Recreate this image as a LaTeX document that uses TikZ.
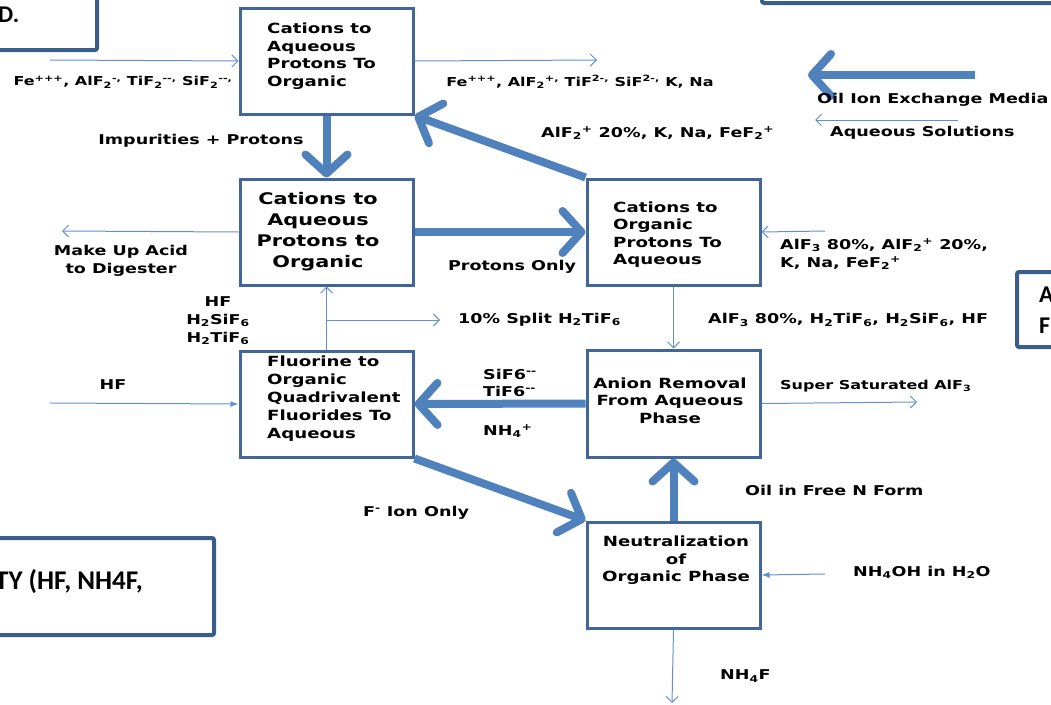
\documentclass[tikz,border=0pt]{standalone}
\usepackage{fontspec}
\usepackage{tikz}
\usetikzlibrary{arrows.meta}
\newfontfamily\flowfont[FakeStretch=1.3]{DejaVu Sans}
\newfontfamily\calfont{Carlito}
\definecolor{flowblue}{HTML}{4F81BD}
\definecolor{thinblue}{HTML}{6490C9}
\definecolor{boxblue}{HTML}{41679A}
\definecolor{edgeblue}{HTML}{3A5E8C}
\newcommand{\sbs}[1]{\textsubscript{#1}}
\newcommand{\sps}[1]{\textsuperscript{#1}}

\begin{document}
\begin{tikzpicture}[x=1pt,y=-1pt]
\tikzstyle{every node}+=[inner sep=0pt]
\tikzstyle{flowbox}=[draw=boxblue, line width=3pt, rectangle, minimum width=173pt, minimum height=106pt]
\tikzstyle{edgebox}=[draw=edgeblue, line width=4pt, rounded corners=2pt]
\tikzstyle{edgetxt}=[font=\calfont\bfseries\fontsize{24}{31}\selectfont, align=left]
\tikzstyle{smalltxt}=[font=\flowfont\bfseries\fontsize{14}{17.5}\selectfont, align=left]
\tikzstyle{bigtxt}=[font=\flowfont\bfseries\fontsize{16}{21}\selectfont, align=center]
\tikzstyle{lbl}=[font=\flowfont\bfseries\fontsize{13.5}{17.5}\selectfont]
\tikzstyle{lblsmall}=[font=\flowfont\bfseries\fontsize{12.3}{17.5}\selectfont]
\tikzstyle{bigflow}=[draw=flowblue, line width=8pt, -{Straight Barb[length=19pt,width=42pt,round]}]
\tikzstyle{thinflow}=[draw=thinblue, line width=1pt, -{Straight Barb[length=6pt,width=12pt]}]
\tikzstyle{thinfill}=[draw=thinblue, line width=1pt, -{Latex[length=8pt,width=6pt]}]
\useasboundingbox (0,0) rectangle (1051,704);
\clip (0,0) rectangle (1051,704);
\draw[edgebox] (-30,-30) rectangle (97,50);
\node[edgetxt, anchor=west] (titleend) at (-2,15) {D.};
\draw[edgebox] (762,-60) rectangle (1090,3);
\draw[edgebox] (1017,272) rectangle (1090,347);
\node[edgetxt, anchor=west] (sidenote) at (1039,310) {A\\F};
\draw[edgebox] (-40,538) rectangle (214,635);
\node[edgetxt, anchor=west, font=\calfont\bfseries\fontsize{27}{31}\selectfont] (capnote) at (-5,582) {TY (HF, NH4F,};
\node[flowbox] (cat1) at (326.5,61) {};
\node[flowbox] (cat2) at (326.5,232) {};
\node[flowbox] (org) at (673.5,232) {};
\node[flowbox] (fluor) at (326.5,404) {};
\node[flowbox, minimum height=107pt] (anion) at (673.5,403.5) {};
\node[flowbox] (neut) at (673.5,575) {};
\node[smalltxt, anchor=west] (cat1t) at (267,56) {Cations to\\Aqueous\\Protons To\\Organic};
\node[bigtxt] (cat2t) at (318,232) {Cations to\\Aqueous\\Protons to\\Organic};
\node[smalltxt, anchor=west] (orgt) at (613,234.5) {Cations to\\Organic\\Protons To\\Aqueous};
\node[smalltxt, anchor=west, font=\flowfont\bfseries\fontsize{14}{18}\selectfont] (fluort) at (267,399) {Fluorine to\\Organic\\Quadrivalent\\Fluorides To\\Aqueous};
\node[smalltxt, align=center] (aniont) at (670,400.5) {Anion Removal\\From Aqueous\\Phase};
\node[smalltxt, align=center] (neutt) at (676,560.5) {Neutralization\\of\\Organic Phase};
\draw[bigflow] (cat1.south) -- (cat2.north);
\draw[bigflow] (cat2.east) -- (org.west);
\draw[bigflow] (org.north west) -- (cat1.south east);
\draw[bigflow] (anion.west) -- (fluor.east);
\draw[bigflow] (fluor.south east) -- (neut.north west);
\draw[bigflow] (neut.north) -- (anion.south);
\coordinate (oilsrc) at (975,75);
\coordinate (oiltip) at (808,75);
\draw[bigflow] (oilsrc) -- (oiltip);
\coordinate (aqsrc) at (958,120);
\coordinate (aqtip) at (815,120);
\draw[thinflow] (aqsrc) -- (aqtip);
\coordinate (feed) at (50,60);
\draw[thinflow] (feed) -- (cat1.west);
\coordinate (raffinate) at (597,60);
\draw[thinflow] (cat1.east) -- (raffinate);
\coordinate (digester) at (62,231);
\draw[thinflow] (cat2.west) -- (digester);
\coordinate (alfin) at (825,231);
\draw[thinflow] (alfin) -- (org.east);
\draw[thinflow] (org.south) -- (anion.north);
\draw[thinflow] (fluor.north) -- (cat2.south);
\coordinate (split) at (326.5,320);
\coordinate (splitout) at (440,320);
\draw[thinflow] (split) -- (splitout);
\coordinate (hfsrc) at (50,403);
\draw[thinfill] (hfsrc) -- (fluor.west);
\coordinate (alfout) at (917,402);
\draw[thinflow] (anion.east) -- (alfout);
\coordinate (nhsrc) at (825,574);
\draw[thinfill] (nhsrc) -- (neut.east);
\coordinate (nhfout) at (672,703);
\draw[thinflow] (neut.south) -- (nhfout);
\node[lblsmall] (feinlbl) at (123,82) {Fe\sps{+++}, AlF\sbs{2}\sps{-,} TiF\sbs{2}\sps{--,} SiF\sbs{2}\sps{--,}};
\node[lblsmall] (feoutlbl) at (580,82) {Fe\sps{+++}, AlF\sbs{2}\sps{+,} TiF\sps{2-,} SiF\sps{2-,} K, Na};
\node[lbl, anchor=west] (oillbl) at (817,100) {Oil Ion Exchange Media};
\node[lbl, anchor=west] (aqlbl) at (830,133) {Aqueous Solutions};
\node[lbl] (implbl) at (201,141) {Impurities + Protons};
\node[lbl, anchor=west] (retlbl) at (541,133) {AlF\sbs{2}\sps{+} 20\%, K, Na, FeF\sbs{2}\sps{+}};
\node[lbl, align=center] (acidlbl) at (121,261) {Make Up Acid\\to Digester};
\node[lbl] (protlbl) at (512,267) {Protons Only};
\node[lbl, anchor=west, align=left] (alfinlbl) at (780,254) {AlF\sbs{3} 80\%, AlF\sbs{2}\sps{+} 20\%,\\K, Na, FeF\sbs{2}\sps{+}};
\node[lbl, align=center, font=\flowfont\bfseries\fontsize{13.5}{18}\selectfont] (acidslbl) at (218,321) {HF\\H\sbs{2}SiF\sbs{6}\\H\sbs{2}TiF\sbs{6}};
\node[lbl, anchor=west] (splitlbl) at (458,320) {10\% Split H\sbs{2}TiF\sbs{6}};
\node[lbl, anchor=west] (downlbl) at (708,320) {AlF\sbs{3} 80\%, H\sbs{2}TiF\sbs{6}, H\sbs{2}SiF\sbs{6}, HF};
\node[lbl] (hflbl) at (113,385) {HF};
\node[lbl, anchor=west, align=left] (sifl) at (483,383) {SiF6\sps{--}\\TiF6\sps{--}};
\node[lbl, anchor=west] (nh4lbl) at (483,431) {NH\sbs{4}\sps{+}};
\node[lblsmall, anchor=west] (satlbl) at (780,386) {Super Saturated AlF\sbs{3}};
\node[lbl, anchor=west] (flbl) at (363,513) {F\sps{-} Ion Only};
\node[lbl, anchor=west] (freelbl) at (745,490) {Oil in Free N Form};
\node[lbl, anchor=west] (nhohlbl) at (853,572) {NH\sbs{4}OH in H\sbs{2}O};
\node[lbl, anchor=west] (nhflbl) at (720,676) {NH\sbs{4}F};
\end{tikzpicture}
\end{document}
